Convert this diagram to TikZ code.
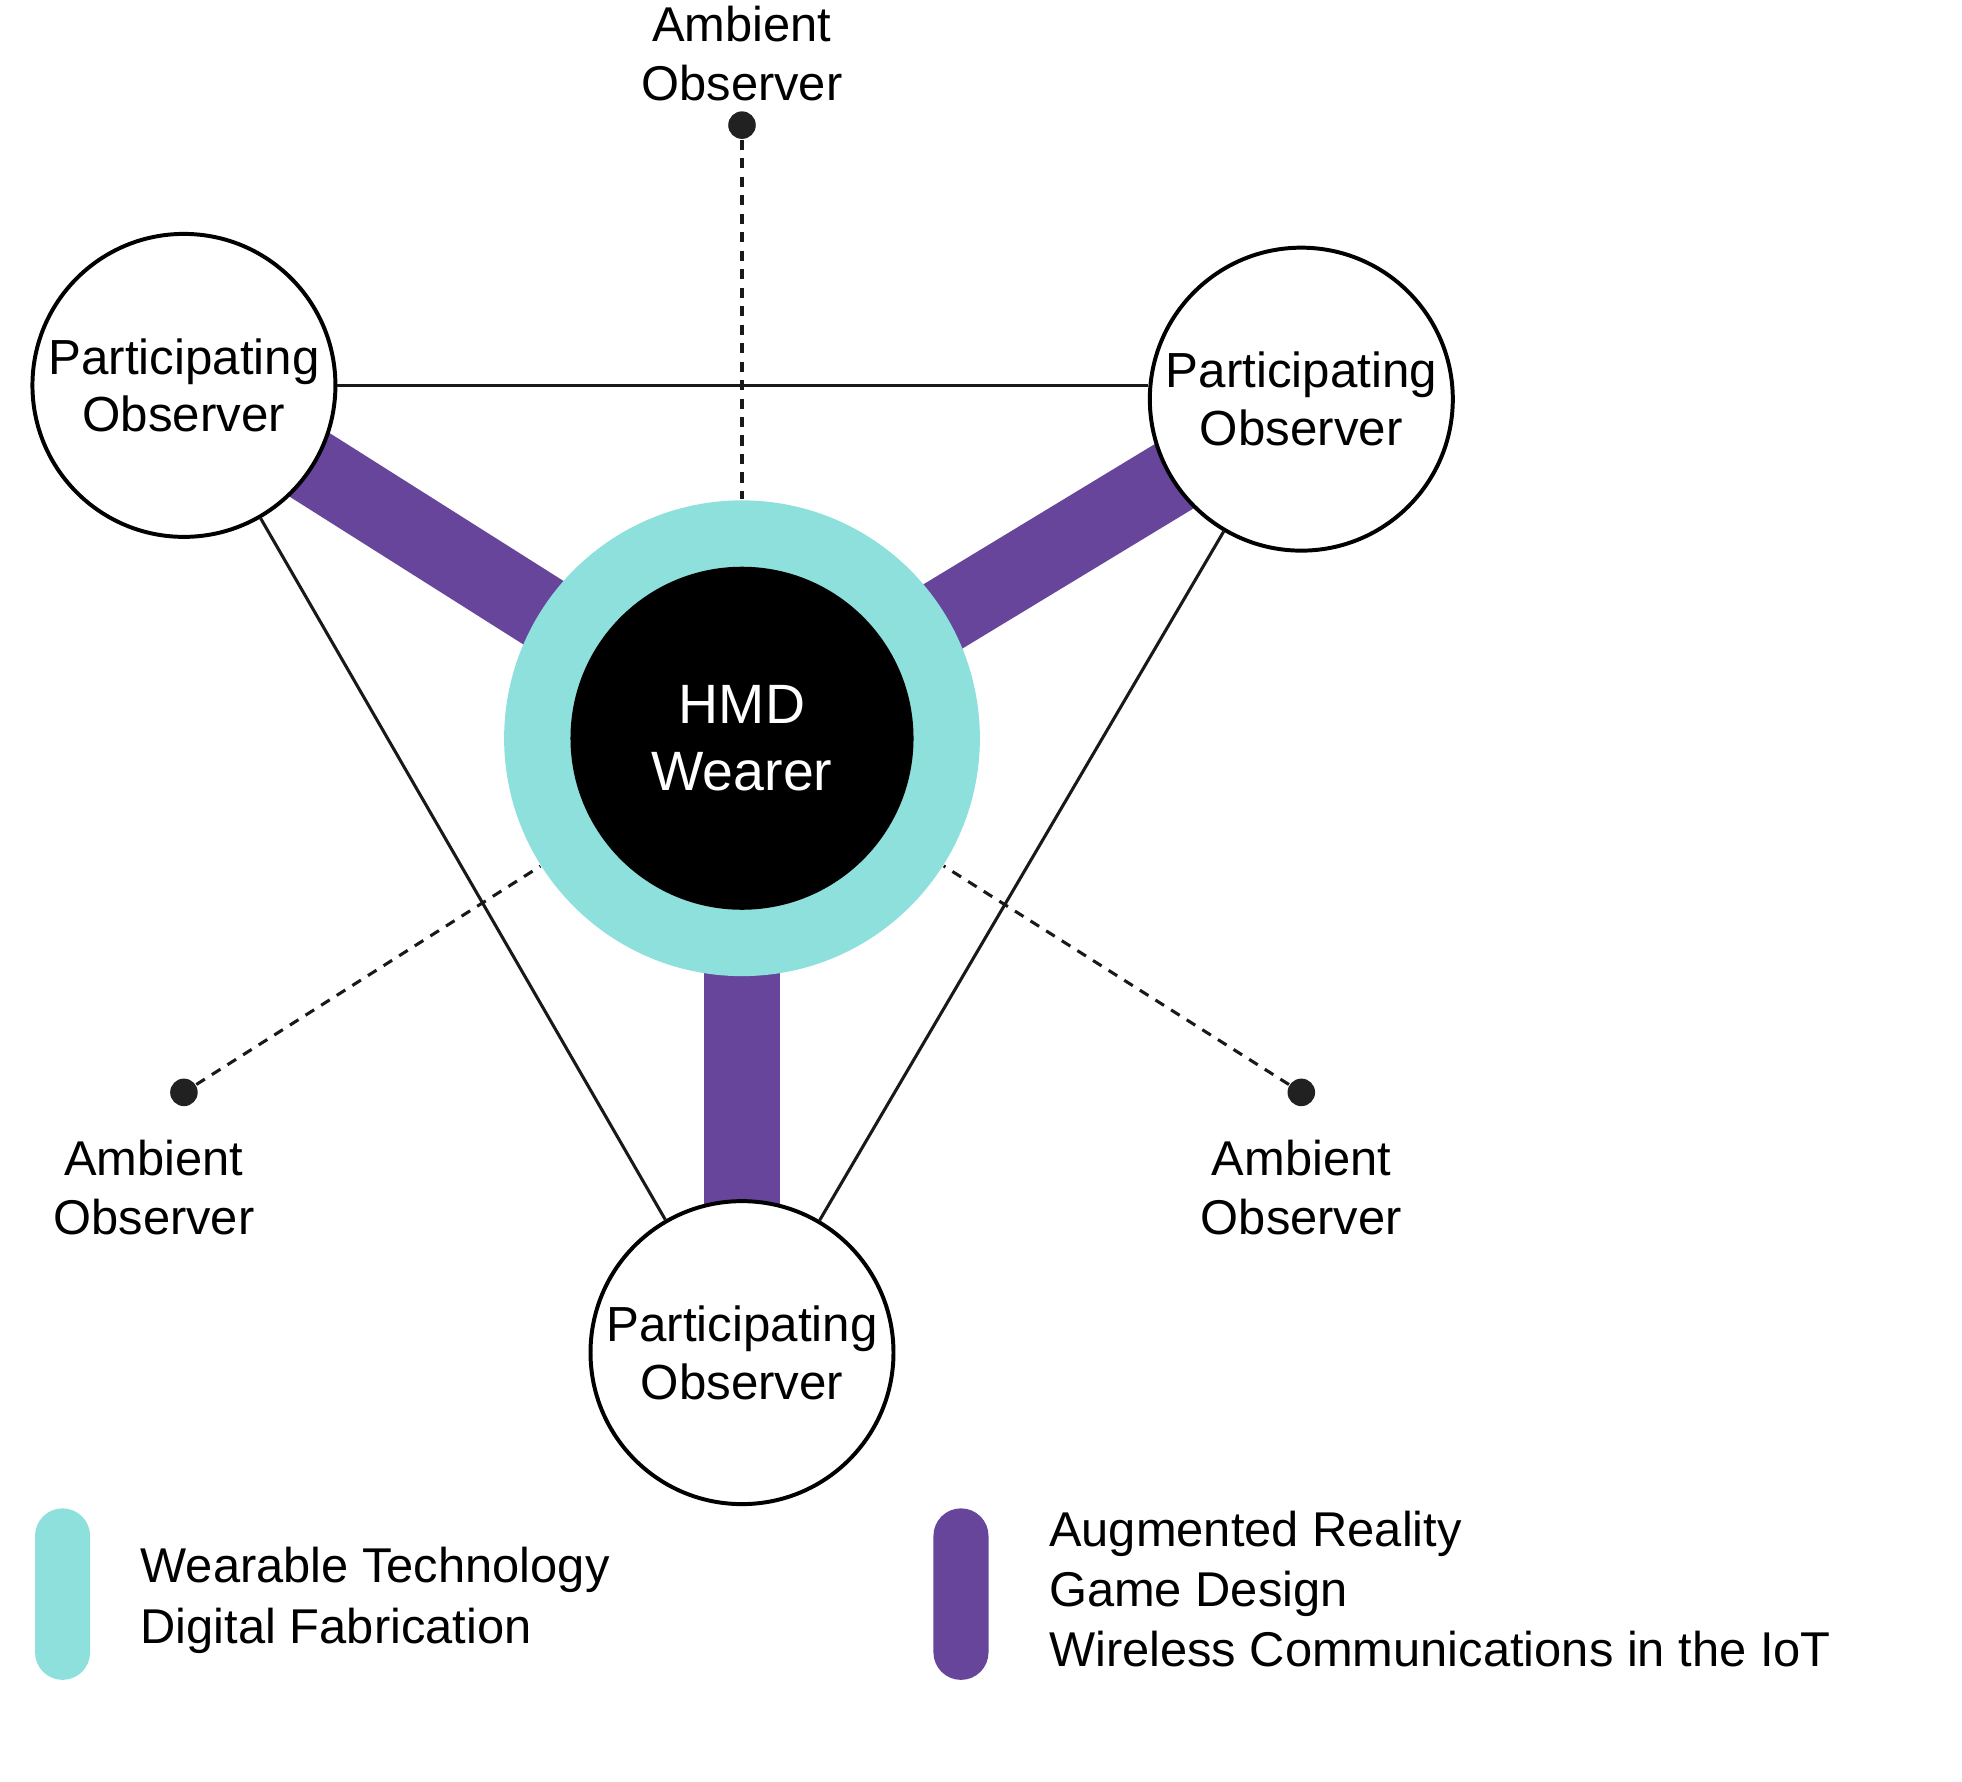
\documentclass[tikz,border=0pt]{standalone}
\usepackage{fontspec}
\setmainfont{Liberation Sans}
\usepackage{xcolor}
\usetikzlibrary{positioning, backgrounds}
\definecolor{wearteal}{HTML}{8DE0DC}
\definecolor{arpurple}{HTML}{66459A}

\begin{document}
\begin{tikzpicture}[
			x=0.01cm, y=-0.01cm,
			observer/.style={circle, draw, fill=white, line width=0.9pt, minimum size=2.42cm, inner sep=0pt, align=center, font=\fontsize{11.2}{13.1}\selectfont},
			ambient/.style={circle, fill=black!87, minimum size=0.22cm, inner sep=0pt},
			amblabel/.style={align=center, inner sep=0pt, font=\fontsize{11.1}{13.4}\selectfont},
			keybar/.style={rounded corners=0.22cm, minimum width=0.44cm, minimum height=1.37cm, inner sep=0pt},
			keytext/.style={align=left, inner sep=0pt, font=\fontsize{11.1}{13.7}\selectfont},
			spoke/.style={line width=0.6cm, arpurple},
			tie/.style={line width=0.7pt, black!90},
			glance/.style={line width=0.7pt, black!90, dash pattern=on 2.3pt off 1.9pt}
		]
		\useasboundingbox (0,0) rectangle (1568,1424);

		% wearer in the middle
		\node[circle, fill=wearteal, minimum size=3.8cm, inner sep=0pt] (hmd) at (593,590) {};
		\node[circle, fill=black, minimum size=2.74cm, inner sep=0pt, text=white, align=center, font=\fontsize{12.6}{15.4}\selectfont] (core) at (hmd) {HMD\\Wearer};

		% participating observers
		\node[observer] (potl) at (147,308) {Participating\\Observer};
		\node[observer] (potr) at (1040,319) {Participating\\Observer};
		\node[observer] (pob) at (593,1081) {Participating\\Observer};

		% ambient observers
		\node[ambient] (amtop) at (593,100) {};
		\node[ambient] (amleft) at (147,873) {};
		\node[ambient] (amright) at (1040,873) {};
		\node[amblabel, above=0.07cm of amtop] (amtoptext) {Ambient\\Observer};
		\node[amblabel, below=0.26cm of amleft, xshift=-0.24cm] (amlefttext) {Ambient\\Observer};
		\node[amblabel, below=0.26cm of amright] (amrighttext) {Ambient\\Observer};

		% thick links sit behind the circles
		\begin{scope}[on background layer]
			\draw[spoke] (hmd.center) -- (potl.center);
			\draw[spoke] (hmd.center) -- (potr.center);
			\draw[spoke] (hmd.center) -- (pob.center);
		\end{scope}

		\draw[tie] (potl.east) -- (potl.east -| potr.west);
		\draw[tie] (potl) -- (pob);
		\draw[tie] (potr) -- (pob);

		\draw[glance] (amtop) -- (hmd);
		\draw[glance] (amleft) -- (hmd);
		\draw[glance] (amright) -- (hmd);

		% legend
		\node[keybar, fill=wearteal] (keyteal) at (50,1274) {};
		\node[keytext, right=0.39cm of keyteal, yshift=-0.05cm] (keytealtext) {Wearable Technology\\Digital Fabrication};
		\node[keybar, fill=arpurple] (keypurple) at (768,1274) {};
		\node[keytext, right=0.47cm of keypurple, yshift=0.04cm] (keypurpletext) {Augmented Reality\\Game Design\\Wireless Communications in the IoT};
	\end{tikzpicture}
\end{document}
